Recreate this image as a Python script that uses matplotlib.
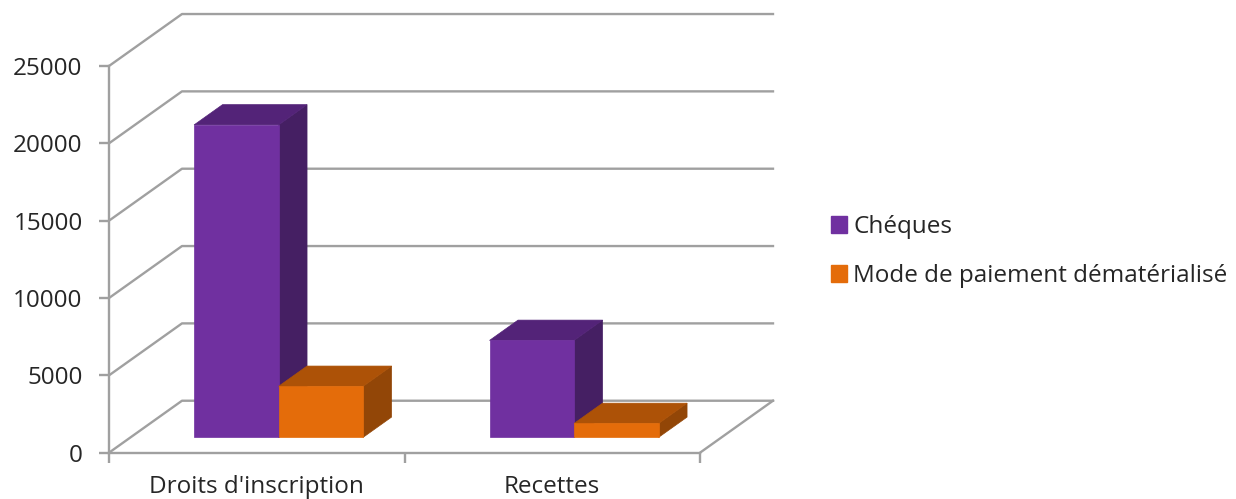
import matplotlib
matplotlib.use("Agg")
import matplotlib.pyplot as plt
from matplotlib.patches import Patch

plt.rcParams['font.family'] = ['Open Sans', 'DejaVu Sans']

# Data
categories = ["Droits d'inscription", "Recettes"]
cheques = [20200, 6270]
dematerialise = [3300, 900]
series_names = ["Chéques", "Mode de paiement dématérialisé"]
y_ticks = [0, 5000, 10000, 15000, 20000, 25000]

# Fake 3D: depth 1 moves a point this far right (categories) and up (values)
DEPTH_X = 0.247
DEPTH_Y = 3360
BAR_W = 0.286
BAR_D0 = 0.295
BAR_D1 = 0.685

GRID = '#a0a0a0'
TEXT = '#262626'
FONT = 17.5
LW = 1.7
# front, top, side
PURPLE = ('#7030a0', '#532378', '#451f63')
ORANGE = ('#e46c0a', '#ad5207', '#924607')


def proj(x, y, d):
    return x + d * DEPTH_X, y + d * DEPTH_Y


def poly(ax, pts, color, z):
    xs, ys = zip(*pts)
    # thin edge in the same colour hides the seams between faces
    ax.fill(xs, ys, facecolor=color, edgecolor=color, lw=0.5, clip_on=False, zorder=z)


def bar_3d(ax, left, value, colors, z):
    right = left + BAR_W
    # side
    poly(ax, [proj(right, 0, BAR_D0), proj(right, 0, BAR_D1),
              proj(right, value, BAR_D1), proj(right, value, BAR_D0)], colors[2], z)
    # top
    poly(ax, [proj(left, value, BAR_D0), proj(right, value, BAR_D0),
              proj(right, value, BAR_D1), proj(left, value, BAR_D1)], colors[1], z)
    # front
    poly(ax, [proj(left, 0, BAR_D0), proj(right, 0, BAR_D0),
              proj(right, value, BAR_D0), proj(left, value, BAR_D0)], colors[0], z)


fig = plt.figure(figsize=(12.36, 4.99), dpi=100)
ax = fig.add_axes([109 / 1236, 1 - 452.7 / 499, 591 / 1236, 386.7 / 499])
ax.set_xlim(0, len(categories))
ax.set_ylim(0, 25000)
ax.patch.set_visible(False)

# back wall grid and left wall diagonals
n = len(categories)
for v in y_ticks:
    x0, y0 = proj(0, v, 0)
    x1, y1 = proj(0, v, 1)
    x2, y2 = proj(n, v, 1)
    ax.plot([x0, x1, x2], [y0, y1, y2], color=GRID, lw=LW, clip_on=False, zorder=1)
x0, y0 = proj(n, 0, 0)
x1, y1 = proj(n, 0, 1)
ax.plot([x0, x1], [y0, y1], color=GRID, lw=LW, clip_on=False, zorder=1)

# bars, back to front within each category
for i in range(n):
    bar_3d(ax, i + 0.215, cheques[i], PURPLE, 2)
    bar_3d(ax, i + 0.215 + BAR_W, dematerialise[i], ORANGE, 3)

for side in ['top', 'right']:
    ax.spines[side].set_visible(False)
for side in ['left', 'bottom']:
    ax.spines[side].set_color(GRID)
    ax.spines[side].set_linewidth(LW)
    ax.spines[side].set_zorder(1)

ax.set_yticks(y_ticks)
ax.set_xticks(range(n + 1))
ax.set_xticklabels([])
ax.set_xticks([i + 0.5 for i in range(n)], labels=categories, minor=True)
ax.tick_params(axis='y', length=7, width=LW, color=GRID, labelcolor=TEXT, labelsize=FONT, pad=12)
ax.tick_params(axis='x', which='major', length=7, width=LW, color=GRID)
ax.tick_params(axis='x', which='minor', length=0, labelcolor=TEXT, labelsize=FONT, pad=16)

handles = [Patch(color=PURPLE[0]), Patch(color=ORANGE[0])]
fig.legend(handles, series_names, loc='center left', bbox_to_anchor=(831 / 1236, 1 - 251.5 / 499),
           frameon=False, fontsize=FONT, labelcolor=TEXT, handlelength=0.65, handleheight=0.65,
           handletextpad=0.26, labelspacing=1.03, borderpad=0, borderaxespad=0)

fig.savefig('out.png', dpi=100)
